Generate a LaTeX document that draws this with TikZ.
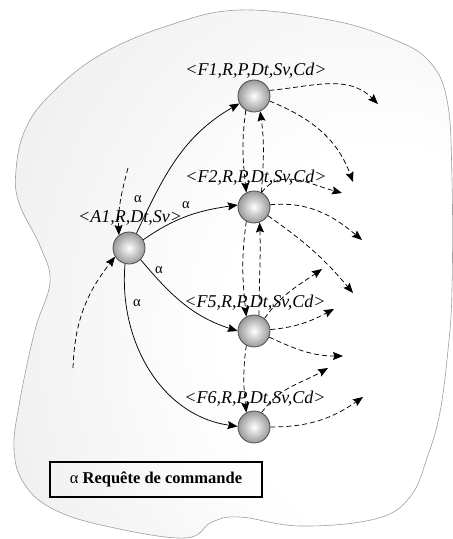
\documentclass[tikz,border=0pt]{standalone}
\usepackage{fontspec}
\setmainfont{Liberation Serif}
\usetikzlibrary{arrows.meta}
\pgfdeclareradialshading{blobshade}{\pgfpoint{22bp}{-8bp}}{%
  color(0bp)=(white); color(18bp)=(white); color(40bp)=(gray!12);
  color(62bp)=(gray!38); color(80bp)=(gray!48)}
\tikzset{
  agent/.style={circle, minimum size=32pt, inner sep=0pt, draw=black!70,
    line width=0.8pt, inner color=white, outer color=gray!80},
  lab/.style={font=\itshape\fontsize{18}{20}\selectfont, inner sep=0pt, anchor=base},
  alab/.style={font=\fontsize{14.5}{16}\selectfont, inner sep=0pt},
  tip/.style={-{Stealth[length=10pt,width=8pt,inset=1.5pt]}},
  req/.style={tip, line width=0.75pt, black},
  msg/.style={tip, line width=0.75pt, black, dash pattern=on 5pt off 3pt},
}
\begin{document}
\begin{tikzpicture}[x=1pt,y=-1pt]
\useasboundingbox (0,0) rectangle (453,539);
% background blob
\path[shading=blobshade, draw=gray!75, line width=0.6pt]
  plot[smooth cycle, tension=0.65] coordinates {
  (240,10) (330,20) (390,38) (428,60) (447,100) (452,180) (452,290)
  (448,350) (440,412) (428,455) (410,497) (375,519) (300,526) (240,517)
  (212,522) (185,538) (110,527) (55,510) (25,485) (14,450) (20,400)
  (35,330) (50,282) (40,246) (19,203) (16,170) (25,130) (50,95)
  (100,55) (170,25)};
% agents
\node[agent] (A1) at (129,248) {};
\node[agent] (F1) at (254,96) {};
\node[agent] (F2) at (254,207) {};
\node[agent] (F5) at (254,331) {};
\node[agent] (F6) at (254,427) {};
% free ends
\coordinate (s1) at (128,168);
\coordinate (s2) at (73,368);
\coordinate (e1) at (378,104);
\coordinate (e2) at (353,182);
\coordinate (e3) at (342,193);
\coordinate (e4) at (362,240);
\coordinate (e5) at (353,293);
\coordinate (e6) at (322,269);
\coordinate (e7) at (334,309);
\coordinate (e8) at (343,356);
\coordinate (e9) at (328,368);
\coordinate (e10) at (363,397);
% requests
\draw[req] (A1.63) to[out=65,in=210] (F1.207);
\draw[req] (A1.30) to[out=35,in=188] (F2.173);
\draw[req] (A1.-45) to[out=-50,in=162] (F5.180);
\draw[req] (A1.256) to[out=-95,in=172] (F6.178);
% dashed messages
\draw[msg] (s1) to[out=-105,in=92] (A1.128);
\draw[msg] (s2) to[out=88,in=232] (A1.212);
\draw[msg] (F1.20) to[out=5,in=135] (e1);
\draw[msg] (F1.-18) to[out=-22,in=110] (e2);
\draw[msg] (F1.240) to[out=-98,in=96] (F2.118);
\draw[msg] (F2.63) to[out=86,in=-82] (F1.292);
\draw[msg] (F2.62) to[out=55,in=165] (e3);
\draw[msg] (F2.8) to[out=5,in=140] (e4);
\draw[msg] (F2.-32) to[out=-35,in=130] (e5);
\draw[msg] (F2.242) to[out=-98,in=96] (F5.118);
\draw[msg] (F5.72) to[out=90,in=-88] (F2.290);
\draw[msg] (F5.50) to[out=55,in=215] (e6);
\draw[msg] (F5.5) to[out=5,in=208] (e7);
\draw[msg] (F5.-22) to[out=-25,in=180] (e8);
\draw[msg] (F5.242) to[out=-98,in=96] (F6.118);
\draw[msg] (F6.62) to[out=55,in=210] (e9);
\draw[msg] (F6.0) to[out=0,in=215] (e10);
% labels
\node[lab] (LF1) at (256,75) {<F1,R,P,Dt,Sv,Cd>};
\node[lab] (LF2) at (256,182) {<F2,R,P,Dt,Sv,Cd>};
\node[lab] (LA1) at (130,222) {<A1,R,Dt,Sv>};
\node[lab] (LF5) at (255,307) {<F5,R,P,Dt,Sv,Cd>};
\node[lab] (LF6) at (255,403) {<F6,R,P,Dt,Sv,Cd>};
\node[alab] (a1) at (138,199) {α};
\node[alab] (a2) at (186,205) {α};
\node[alab] (a3) at (159,270) {α};
\node[alab] (a4) at (137,303) {α};
% legend
\node[draw=black, line width=1.2pt, minimum width=212pt, minimum height=35pt,
  inner sep=0pt, font=\fontsize{16.5}{19}\selectfont] (leg) at (156,479.5)
  {α \textbf{Requête de commande}};
\end{tikzpicture}
\end{document}
